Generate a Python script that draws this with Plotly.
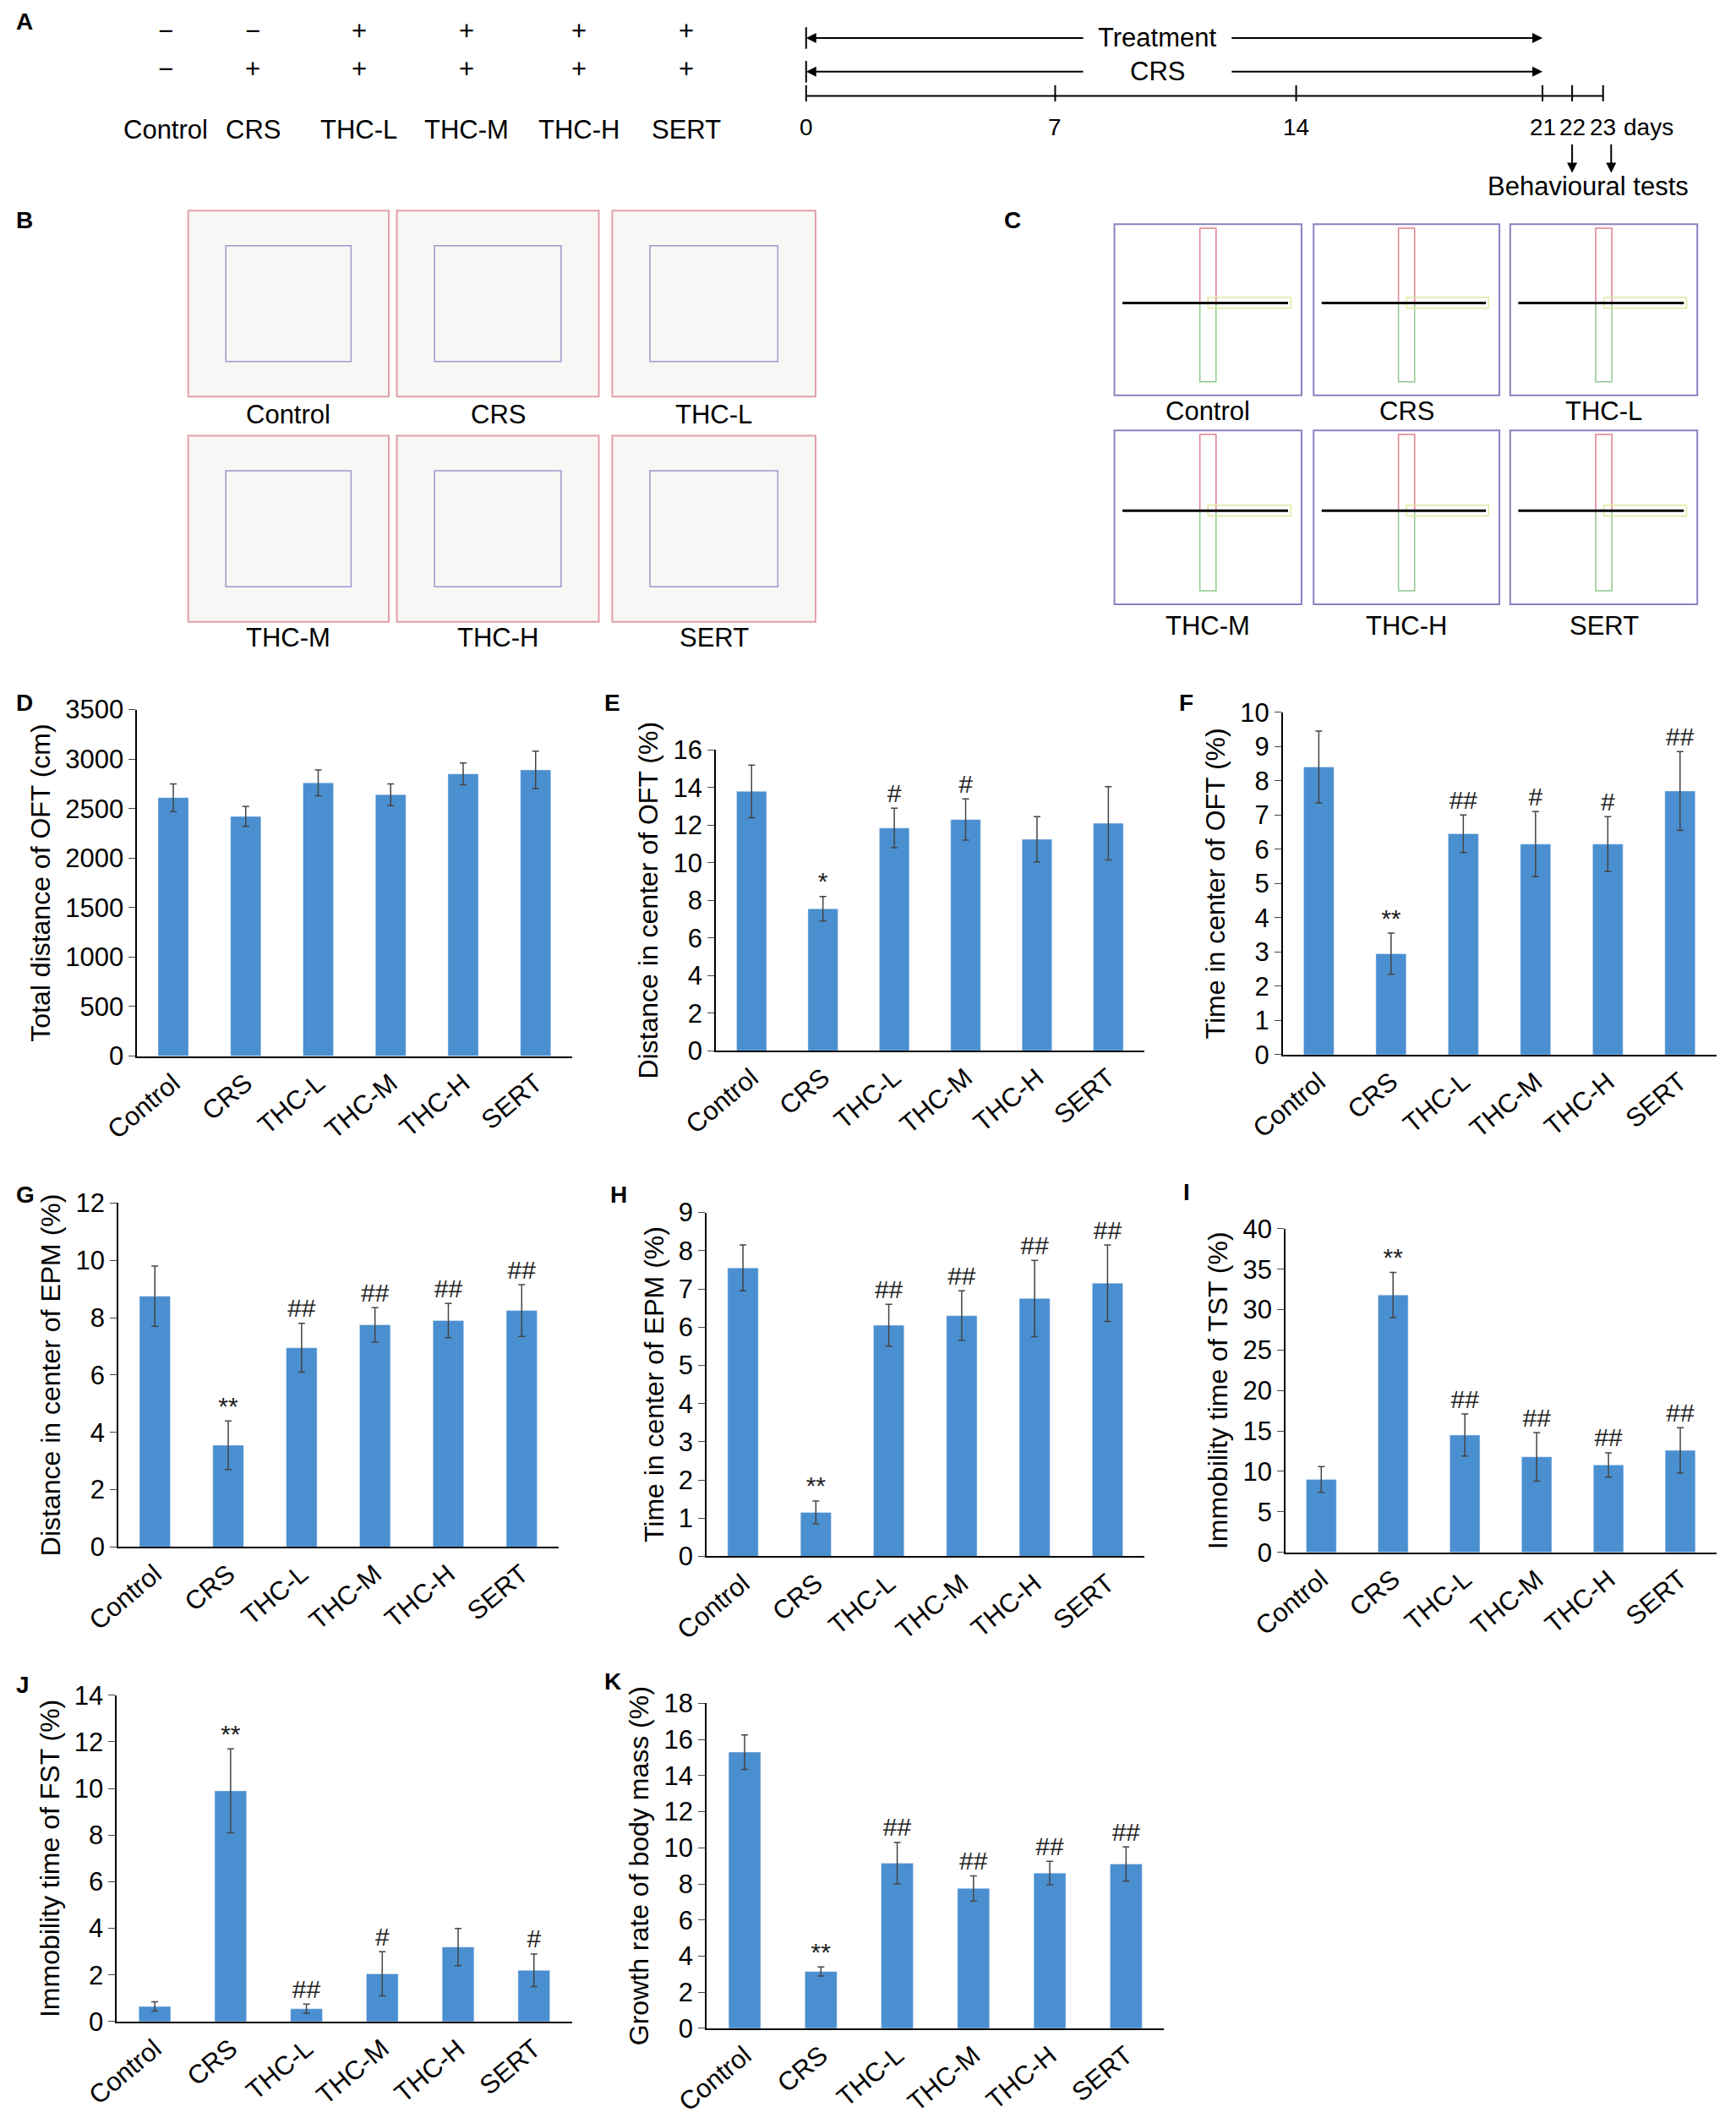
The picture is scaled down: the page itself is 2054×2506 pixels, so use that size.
import plotly.graph_objects as go

W, H = 2054, 2506
SX, SY = 2054/1285, 2506/1568
def px(x): return ((x - 26.6) / 0.983) / 1285
def py(y): return 1 - ((y - 14.5) / 0.9877) / 1568

groups = ["Control", "CRS", "THC-L", "THC-M", "THC-H", "SERT"]

D_vals = [2610, 2420, 2760, 2640, 2850, 2890]
D_err = [140, 100, 130, 110, 110, 190]
D_sig = ["", "", "", "", "", ""]
E_vals = [13.8, 7.55, 11.85, 12.3, 11.25, 12.1]
E_err = [1.4, 0.65, 1.05, 1.1, 1.2, 1.95]
E_sig = ["", "*", "#", "#", "", ""]
F_vals = [8.4, 2.95, 6.45, 6.15, 6.15, 7.7]
F_err = [1.05, 0.6, 0.55, 0.95, 0.8, 1.15]
F_sig = ["", "**", "##", "#", "#", "##"]
G_vals = [8.75, 3.55, 6.95, 7.75, 7.9, 8.25]
G_err = [1.05, 0.85, 0.85, 0.6, 0.6, 0.9]
G_sig = ["", "**", "##", "##", "##", "##"]
H_vals = [7.55, 1.15, 6.05, 6.3, 6.75, 7.15]
H_err = [0.6, 0.3, 0.55, 0.65, 1.0, 1.0]
H_sig = ["", "**", "##", "##", "##", "##"]
I_vals = [9.0, 31.8, 14.5, 11.8, 10.8, 12.6]
I_err = [1.6, 2.8, 2.6, 3.0, 1.5, 2.8]
I_sig = ["", "**", "##", "##", "##", "##"]
J_vals = [0.65, 9.9, 0.55, 2.05, 3.2, 2.2]
J_err = [0.2, 1.8, 0.2, 0.95, 0.8, 0.7]
J_sig = ["", "**", "##", "#", "", "#"]
K_vals = [15.3, 3.15, 9.15, 7.75, 8.6, 9.1]
K_err = [0.95, 0.25, 1.15, 0.7, 0.65, 0.95]
K_sig = ["", "**", "##", "##", "##", "##"]

FONT = "Liberation Sans"
BAR = "#4a8fd0"
FS = 31
fig = go.Figure()
annots, shapes = [], []

def txt(x, y, s, size=FS, bold=False, xanchor="center", yanchor="middle"):
    annots.append(dict(x=px(x), y=py(y), xref="paper", yref="paper", text=f"<b>{s}</b>" if bold else s,
                       showarrow=False, font=dict(family=FONT, size=size, color="black"),
                       xanchor=xanchor, yanchor=yanchor))

def arrow(x, y, x_from, y_from):
    annots.append(dict(x=px(x), y=py(y), xref="paper", yref="paper", axref="pixel", ayref="pixel",
                       ax=(x_from - x) * SX, ay=(y_from - y) * SY, text="", showarrow=True,
                       arrowhead=2, arrowsize=1.2, arrowwidth=2, arrowcolor="black"))

panels = [
    ("D", D_vals, D_err, D_sig, (97, 420, 525, 782), 3500, 500, "Total distance of OFT (cm)"),
    ("E", E_vals, E_err, E_sig, (527, 845, 555, 778), 16, 2, "Distance in center of OFT (%)"),
    ("F", F_vals, F_err, F_sig, (948, 1270, 527, 781), 10, 1, "Time in center of OFT (%)"),
    ("G", G_vals, G_err, G_sig, (83, 410, 891, 1146), 12, 2, "Distance in center of EPM (%)"),
    ("H", H_vals, H_err, H_sig, (520, 845, 898, 1153), 9, 1, "Time in center of EPM (%)"),
    ("I", I_vals, I_err, I_sig, (950, 1270, 910, 1150), 40, 5, "Immobility time of TST (%)"),
    ("J", J_vals, J_err, J_sig, (82, 420, 1256, 1498), 14, 2, "Immobility time of FST (%)"),
    ("K", K_vals, K_err, K_sig, (520, 860, 1262, 1503), 18, 2, "Growth rate of body mass (%)"),
]
letter_pos = {"D": (6, 520), "E": (443, 520), "F": (870, 520), "G": (6, 885), "H": (447, 885),
              "I": (873, 883), "J": (6, 1248), "K": (443, 1246)}
for i, (L, v, e, s, (x0, x1, y0, y1), ymax, dt, title) in enumerate(panels, start=1):
    xa, ya = f"x{i}", f"y{i}"
    fig.add_trace(go.Bar(x=groups, y=v, marker_color=BAR, width=0.42, xaxis=xa, yaxis=ya,
                         error_y=dict(type="data", array=e, color="#444", thickness=1.5, width=4),
                         showlegend=False))
    fig.add_trace(go.Scatter(x=groups, y=[a + b for a, b in zip(v, e)], text=s, mode="text",
                             textposition="top center", textfont=dict(family=FONT, size=30, color="#222"),
                             xaxis=xa, yaxis=ya, showlegend=False, cliponaxis=False))
    ax = dict(domain=[px(x0), px(x1)], anchor=ya, showline=True, linecolor="black", linewidth=1.5,
              ticks="", tickangle=-40, tickfont=dict(family=FONT, size=FS, color="black"), showgrid=False)
    ay = dict(domain=[py(y1), py(y0)], anchor=xa, range=[0, ymax], dtick=dt, showline=True,
              linecolor="black", linewidth=1.5, ticks="outside", ticklen=8, showgrid=False, zeroline=False,
              tickfont=dict(family=FONT, size=FS, color="black"),
              title=dict(text=title, font=dict(family=FONT, size=32, color="black"), standoff=8))
    fig.layout[f"xaxis{i}"] = ax
    fig.layout[f"yaxis{i}"] = ay
    txt(*letter_pos[L], L, size=28, bold=True, xanchor="left")

# Panel A
txt(6, 15, "A", size=28, bold=True, xanchor="left")
cols = [118, 183, 262, 342, 425, 505]
row1 = ["−", "−", "+", "+", "+", "+"]
row2 = ["−", "+", "+", "+", "+", "+"]
for c, a, b, g in zip(cols, row1, row2, groups):
    txt(c, 22, a); txt(c, 50, b); txt(c, 95, g)
shapes.append(dict(type="line", xref="paper", yref="paper", x0=px(594), x1=px(1186), y0=py(70), y1=py(70),
                   line=dict(color="black", width=2)))
for tx, lab in [(594, "0"), (779, "7"), (958, "14"), (1141, "21"), (1163, "22"), (1186, "23")]:
    shapes.append(dict(type="line", xref="paper", yref="paper", x0=px(tx), x1=px(tx), y0=py(62), y1=py(74),
                       line=dict(color="black", width=2)))
    txt(tx, 93, lab, size=28)
txt(1200, 93, "days", size=28, xanchor="left")
for yy, lab in [(27, "Treatment"), (52, "CRS")]:
    arrow(594, yy, 800, yy)
    arrow(1141, yy, 910, yy)
    shapes.append(dict(type="line", xref="paper", yref="paper", x0=px(594), x1=px(594), y0=py(yy - 8),
                       y1=py(yy + 8), line=dict(color="black", width=2)))
    txt(855, yy, lab)
for xa_ in [1163, 1192]:
    arrow(xa_, 127, xa_, 105)
txt(1175, 137, "Behavioural tests")

# Panel B
txt(6, 162, "B", size=28, bold=True, xanchor="left")
bx = [(135, 284), (290, 440), (450, 601)]
for (ry0, ry1), ly, names in [((155, 293), 306, groups[:3]), ((322, 460), 472, groups[3:])]:
    for (cx0, cx1), n in zip(bx, names):
        shapes.append(dict(type="rect", xref="paper", yref="paper", x0=px(cx0), x1=px(cx1), y0=py(ry1),
                           y1=py(ry0), line=dict(color="#e0a0a8", width=2), fillcolor="#f7f7f5"))
        shapes.append(dict(type="rect", xref="paper", yref="paper", x0=px(cx0 + 28), x1=px(cx1 - 28),
                           y0=py(ry1 - 26), y1=py(ry0 + 26), line=dict(color="#9a9ad0", width=1.5)))
        txt((cx0 + cx1) / 2, ly, n)

# Panel C
txt(740, 162, "C", size=28, bold=True, xanchor="left")
cx = [(823, 962), (971, 1109), (1117, 1256)]
for (ry0, ry1), ly, names in [((165, 292), 304, groups[:3]), ((318, 447), 463, groups[3:])]:
    for (cx0, cx1), n in zip(cx, names):
        shapes.append(dict(type="rect", xref="paper", yref="paper", x0=px(cx0), x1=px(cx1), y0=py(ry1),
                           y1=py(ry0), line=dict(color="#8a80c0", width=2), fillcolor="white"))
        mx, my = (cx0 + cx1) / 2, (ry0 + ry1) / 2 - 5
        shapes.append(dict(type="rect", xref="paper", yref="paper", x0=px(mx - 6), x1=px(mx + 6),
                           y0=py(my), y1=py(ry0 + 3), line=dict(color="#e08090", width=1.5)))
        shapes.append(dict(type="rect", xref="paper", yref="paper", x0=px(mx - 6), x1=px(mx + 6),
                           y0=py(ry1 - 10), y1=py(my), line=dict(color="#90c890", width=1.5)))
        shapes.append(dict(type="rect", xref="paper", yref="paper", x0=px(mx), x1=px(cx1 - 8),
                           y0=py(my + 4), y1=py(my - 4), line=dict(color="#e0e8a0", width=1.5)))
        shapes.append(dict(type="line", xref="paper", yref="paper", x0=px(cx0 + 6), x1=px(cx1 - 10),
                           y0=py(my), y1=py(my), line=dict(color="black", width=3)))
        txt((cx0 + cx1) / 2, ly, n)

fig.update_layout(width=W, height=H, margin=dict(l=0, r=0, t=0, b=0), plot_bgcolor="white",
                  paper_bgcolor="white", annotations=annots, shapes=shapes, bargap=0.5)
fig.write_html("out.html")
